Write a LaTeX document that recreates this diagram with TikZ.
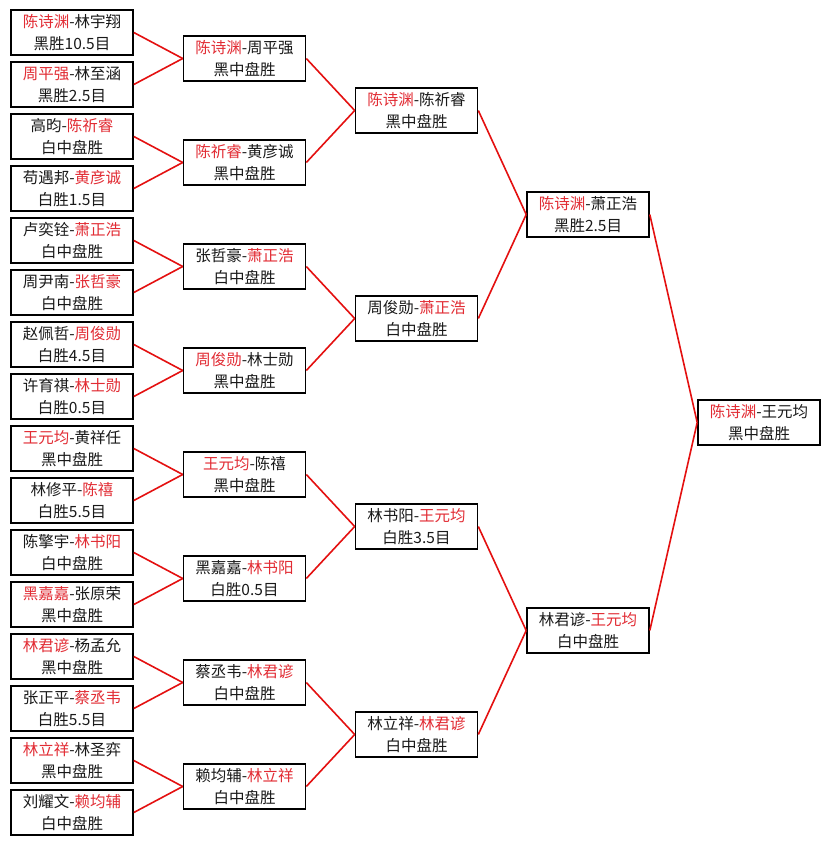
\documentclass[tikz,border=0pt]{standalone}
\usepackage{fontspec}
\newfontfamily\cjkfont{Noto Sans CJK SC}
\definecolor{lred}{RGB}{228,16,16}
\definecolor{tred}{RGB}{226,44,52}
\definecolor{tblack}{RGB}{25,25,25}
\newcommand\win[1]{\textcolor{tred}{#1}}
\tikzset{
  match/.style={draw=black, line width=1.6pt, fill=white, minimum width=122pt, minimum height=45pt,
    inner sep=0pt, align=center, text=tblack, font=\cjkfont\fontsize{15.5}{22}\selectfont},
  conn/.style={draw=lred, line width=1.6pt}
}
\begin{document}
\begin{tikzpicture}[x=1pt,y=-1pt]
\useasboundingbox[fill=white] (0,0) rectangle (831,845);
% column 1
\node[match] (a0)  at (72, 32.5) {\win{陈诗渊}-林宇翔\\黑胜10.5目};
\node[match] (a1)  at (72, 84.5) {\win{周平强}-林至涵\\黑胜2.5目};
\node[match] (a2)  at (72,136.5) {高昀-\win{陈祈睿}\\白中盘胜};
\node[match] (a3)  at (72,188.5) {苟遇邦-\win{黄彦诚}\\白胜1.5目};
\node[match] (a4)  at (72,240.5) {卢奕铨-\win{萧正浩}\\白中盘胜};
\node[match] (a5)  at (72,292.5) {周尹南-\win{张哲豪}\\白中盘胜};
\node[match] (a6)  at (72,344.5) {赵佩哲-\win{周俊勋}\\白胜4.5目};
\node[match] (a7)  at (72,396.5) {许育祺-\win{林士勋}\\白胜0.5目};
\node[match] (a8)  at (72,448.5) {\win{王元均}-黄祥任\\黑中盘胜};
\node[match] (a9)  at (72,500.5) {林修平-\win{陈禧}\\白胜5.5目};
\node[match] (a10) at (72,552.5) {陈擎宇-\win{林书阳}\\白中盘胜};
\node[match] (a11) at (72,604.5) {\win{黑嘉嘉}-张原荣\\黑中盘胜};
\node[match] (a12) at (72,656.5) {\win{林君谚}-杨孟允\\黑中盘胜};
\node[match] (a13) at (72,708.5) {张正平-\win{蔡丞韦}\\白胜5.5目};
\node[match] (a14) at (72,760.5) {\win{林立祥}-林圣弈\\黑中盘胜};
\node[match] (a15) at (72,812.5) {刘耀文-\win{赖均辅}\\白中盘胜};
% column 2
\node[match] (b0) at (244.5, 58.5) {\win{陈诗渊}-周平强\\黑中盘胜};
\node[match] (b1) at (244.5,162.5) {\win{陈祈睿}-黄彦诚\\黑中盘胜};
\node[match] (b2) at (244.5,266.5) {张哲豪-\win{萧正浩}\\白中盘胜};
\node[match] (b3) at (244.5,370.5) {\win{周俊勋}-林士勋\\黑中盘胜};
\node[match] (b4) at (244.5,474.5) {\win{王元均}-陈禧\\黑中盘胜};
\node[match] (b5) at (244.5,578.5) {黑嘉嘉-\win{林书阳}\\白胜0.5目};
\node[match] (b6) at (244.5,682.5) {蔡丞韦-\win{林君谚}\\白中盘胜};
\node[match] (b7) at (244.5,786.5) {赖均辅-\win{林立祥}\\白中盘胜};
% column 3
\node[match] (c0) at (416.5,110.5) {\win{陈诗渊}-陈祈睿\\黑中盘胜};
\node[match] (c1) at (416.5,318.5) {周俊勋-\win{萧正浩}\\白中盘胜};
\node[match] (c2) at (416.5,526.5) {林书阳-\win{王元均}\\白胜3.5目};
\node[match] (c3) at (416.5,734.5) {林立祥-\win{林君谚}\\白中盘胜};
% column 4
\node[match] (d0) at (588,214.5) {\win{陈诗渊}-萧正浩\\黑胜2.5目};
\node[match] (d1) at (588,630.5) {林君谚-\win{王元均}\\白中盘胜};
% final
\node[match] (e0) at (759,422.5) {\win{陈诗渊}-王元均\\黑中盘胜};
% connectors
\foreach \i/\p in {0/0,1/0,2/1,3/1,4/2,5/2,6/3,7/3,8/4,9/4,10/5,11/5,12/6,13/6,14/7,15/7}
  \draw[conn] (a\i.east) -- (b\p.west);
\foreach \i/\p in {0/0,1/0,2/1,3/1,4/2,5/2,6/3,7/3}
  \draw[conn] (b\i.east) -- (c\p.west);
\foreach \i/\p in {0/0,1/0,2/1,3/1}
  \draw[conn] (c\i.east) -- (d\p.west);
\draw[conn] (d0.east) -- (e0.west);
\draw[conn] (d1.east) -- (e0.west);
\end{tikzpicture}
\end{document}
